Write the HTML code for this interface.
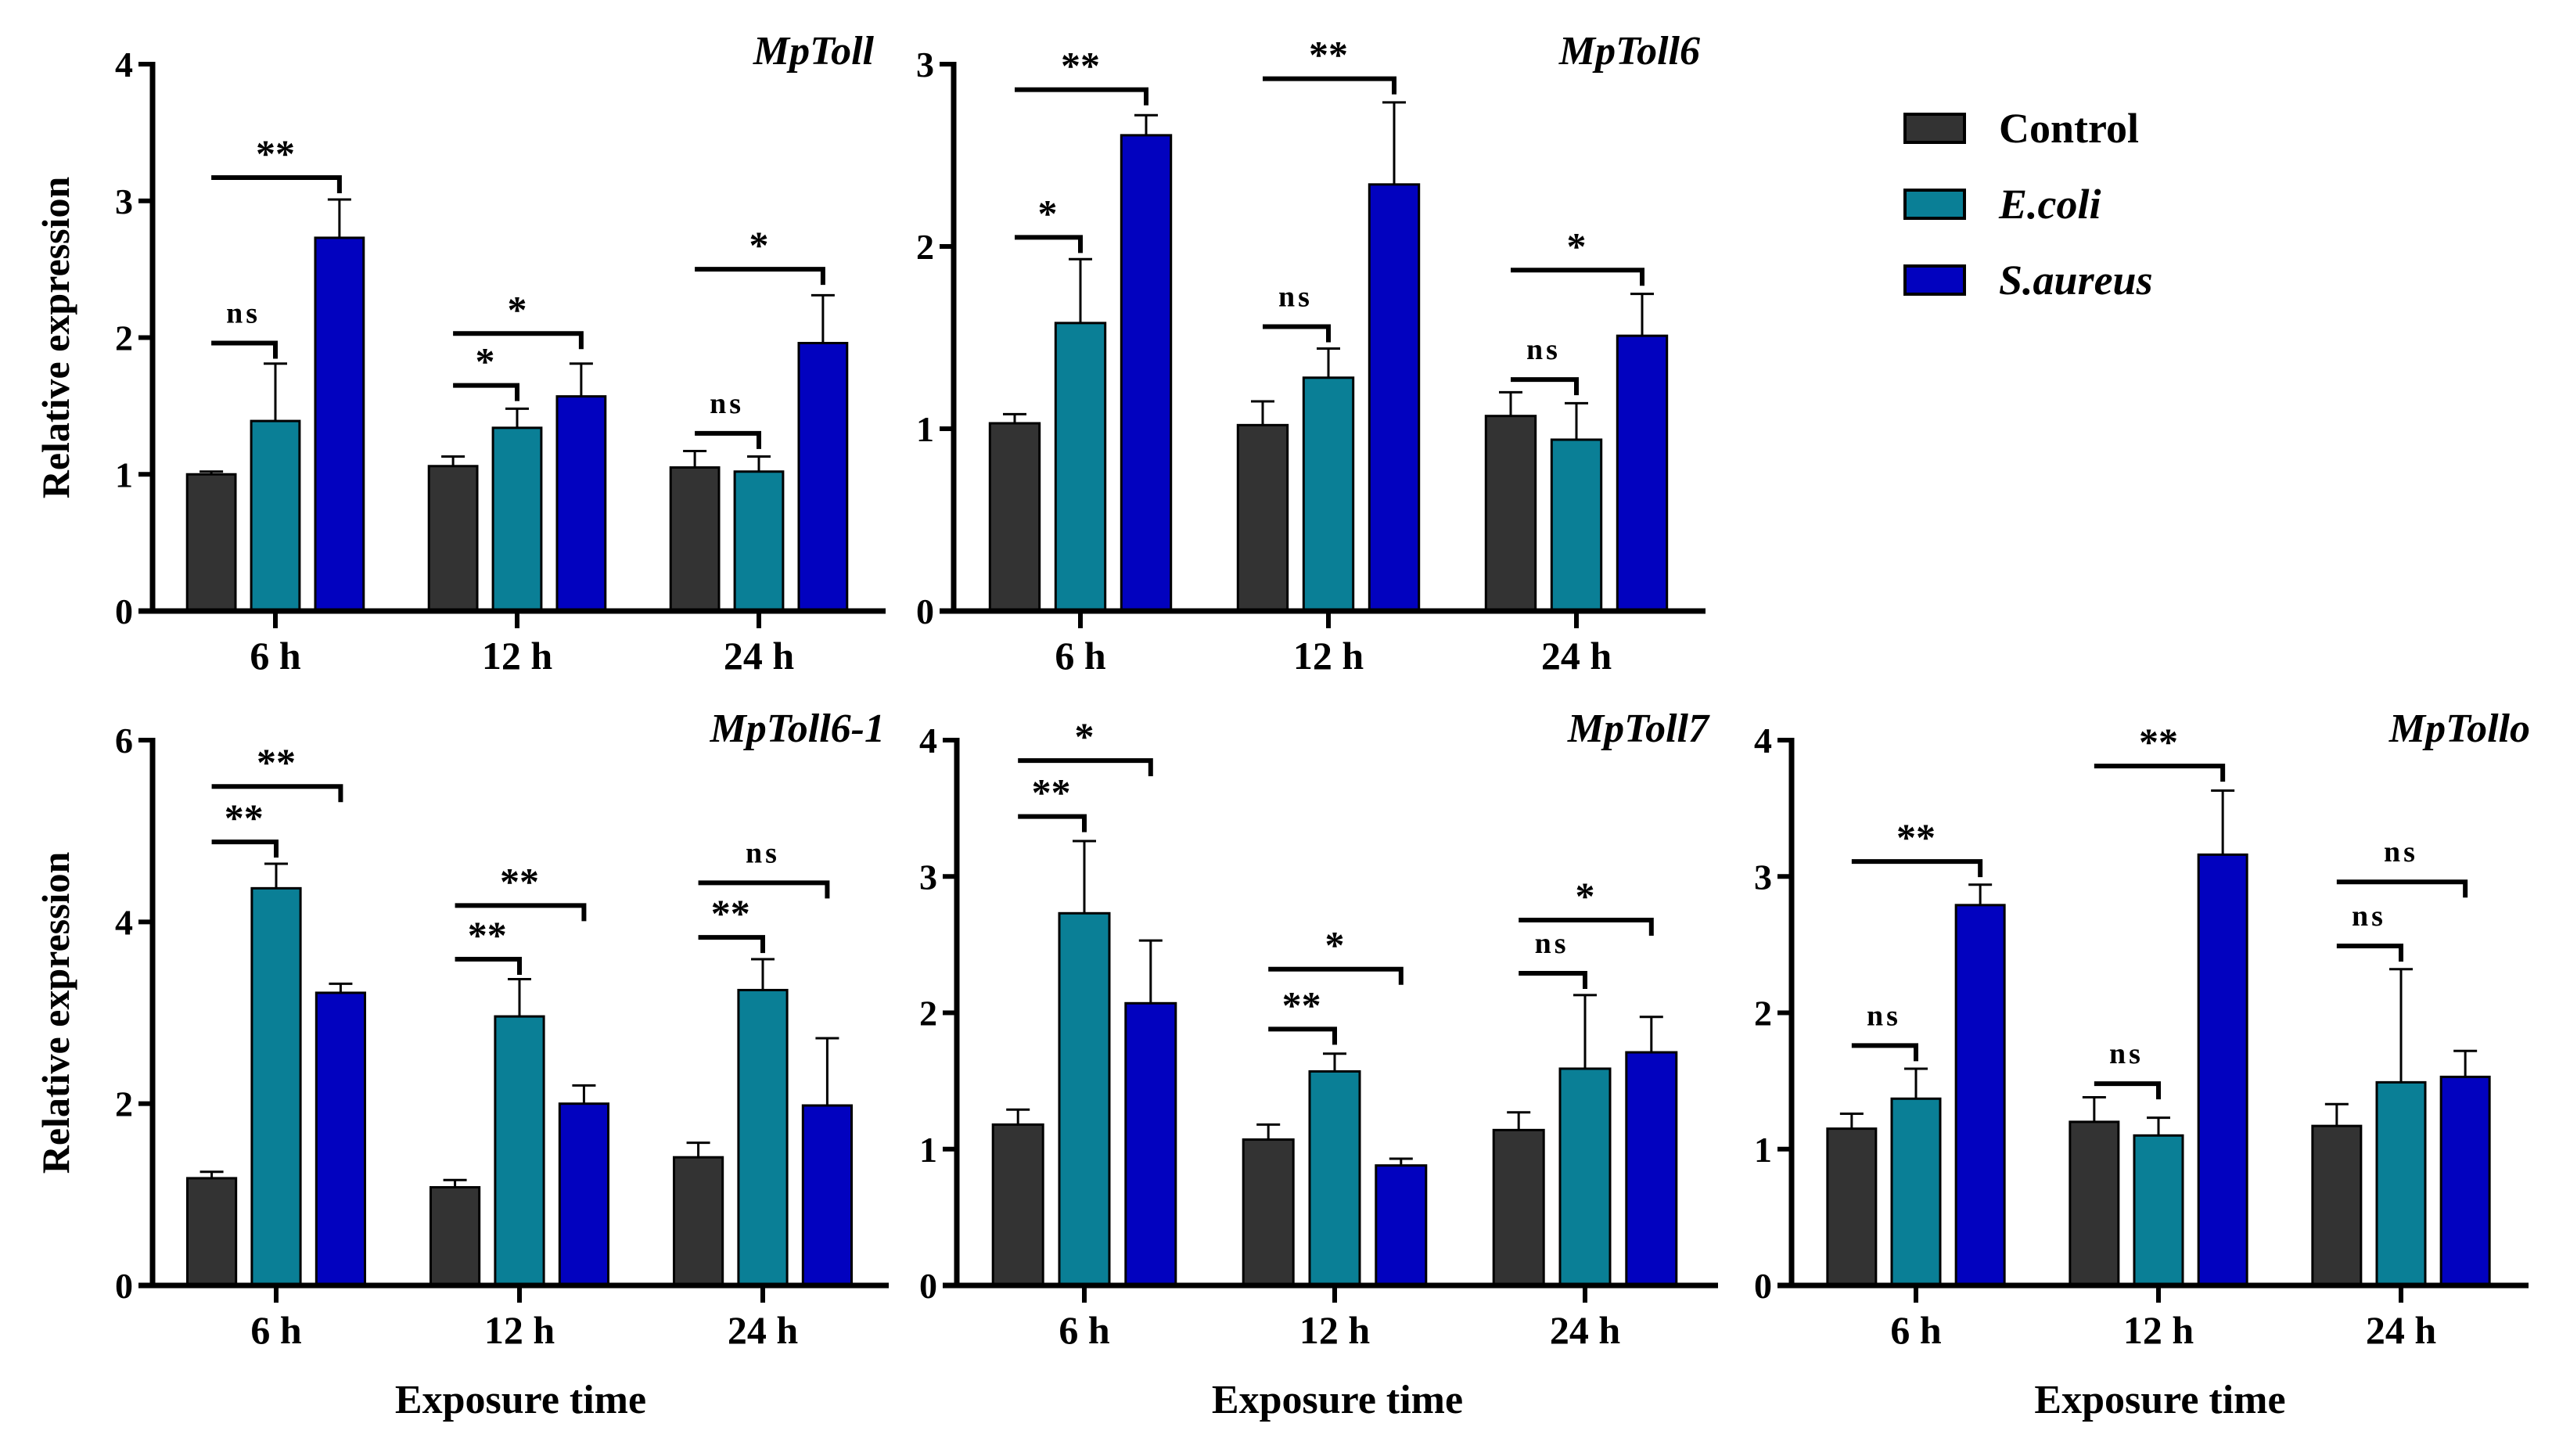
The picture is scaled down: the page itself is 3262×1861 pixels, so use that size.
<!DOCTYPE html>
<html><head><meta charset="utf-8"><style>
html,body{margin:0;padding:0;background:#fff;}
svg{display:block;}
text{font-family:"Liberation Serif",serif;font-weight:bold;fill:#000;}
</style></head><body>
<svg id="chart" width="3262" height="1861" viewBox="0 0 3262 1861" xmlns="http://www.w3.org/2000/svg">
<g id="legend">
 <rect x="2435" y="146" width="76" height="36" fill="#333333" stroke="#000" stroke-width="4"/>
 <text x="2555" y="182" font-size="54">Control</text>
 <rect x="2435" y="243" width="76" height="36" fill="#0a7f96" stroke="#000" stroke-width="4"/>
 <text x="2555" y="279" font-size="54" font-style="italic">E.coli</text>
 <rect x="2435" y="340" width="76" height="36" fill="#0202bf" stroke="#000" stroke-width="4"/>
 <text x="2555" y="376" font-size="54" font-style="italic">S.aureus</text>
</g>
</svg>
<script>
const categories = ['6 h','12 h','24 h'];
const seriesNames = ['Control','E.coli','S.aureus'];
const seriesColors = ['#333333','#0a7f96','#0202bf'];

const mpTollMean = [[1.00,1.39,2.73],[1.06,1.34,1.57],[1.05,1.02,1.96]];
const mpTollErr  = [[0.02,0.42,0.28],[0.07,0.14,0.24],[0.12,0.11,0.35]];
const mpTollSig  = [[0,1,1.96,'ns'],[0,2,3.17,'**'],[1,1,1.65,'*'],[1,2,2.03,'*'],[2,1,1.30,'ns'],[2,2,2.50,'*']];
const mpTollTicks = [0,1,2,3,4];

const mpToll6Mean = [[1.03,1.58,2.61],[1.02,1.28,2.34],[1.07,0.94,1.51]];
const mpToll6Err  = [[0.05,0.35,0.11],[0.13,0.16,0.45],[0.13,0.20,0.23]];
const mpToll6Sig  = [[0,1,2.05,'*'],[0,2,2.86,'**'],[1,1,1.56,'ns'],[1,2,2.92,'**'],[2,1,1.27,'ns'],[2,2,1.87,'*']];
const mpToll6Ticks = [0,1,2,3];

const mpToll61Mean = [[1.18,4.37,3.22],[1.08,2.96,2.00],[1.41,3.25,1.98]];
const mpToll61Err  = [[0.07,0.27,0.10],[0.08,0.41,0.20],[0.16,0.34,0.74]];
const mpToll61Sig  = [[0,1,4.88,'**'],[0,2,5.49,'**'],[1,1,3.59,'**'],[1,2,4.18,'**'],[2,1,3.83,'**'],[2,2,4.43,'ns']];
const mpToll61Ticks = [0,2,4,6];

const mpToll7Mean = [[1.18,2.73,2.07],[1.07,1.57,0.88],[1.14,1.59,1.71]];
const mpToll7Err  = [[0.11,0.53,0.46],[0.11,0.13,0.05],[0.13,0.54,0.26]];
const mpToll7Sig  = [[0,1,3.44,'**'],[0,2,3.85,'*'],[1,1,1.88,'**'],[1,2,2.32,'*'],[2,1,2.29,'ns'],[2,2,2.68,'*']];
const mpToll7Ticks = [0,1,2,3,4];

const mpTolloMean = [[1.15,1.37,2.79],[1.20,1.10,3.16],[1.17,1.49,1.53]];
const mpTolloErr  = [[0.11,0.22,0.15],[0.18,0.13,0.47],[0.16,0.83,0.19]];
const mpTolloSig  = [[0,1,1.76,'ns'],[0,2,3.11,'**'],[1,1,1.48,'ns'],[1,2,3.81,'**'],[2,1,2.49,'ns'],[2,2,2.96,'ns']];
const mpTolloTicks = [0,1,2,3,4];

const NS='http://www.w3.org/2000/svg';
const svg=document.getElementById('chart');
function mk(tag,attrs,parent){const e=document.createElementNS(NS,tag);for(const k in attrs)e.setAttribute(k,attrs[k]);(parent||svg).appendChild(e);return e;}

const panels=[
 {id:'mptoll',title:'MpToll',mean:mpTollMean,err:mpTollErr,sig:mpTollSig,ticks:mpTollTicks,ax:195,end:1132,t0:352,sp:309,top:82,zero:781,tx:1117,ty:82,ylab:true,xlab:false},
 {id:'mptoll6',title:'MpToll6',mean:mpToll6Mean,err:mpToll6Err,sig:mpToll6Sig,ticks:mpToll6Ticks,ax:1219,end:2180,t0:1381,sp:317,top:82,zero:781,tx:2173,ty:82,ylab:false,xlab:false},
 {id:'mptoll6-1',title:'MpToll6-1',mean:mpToll61Mean,err:mpToll61Err,sig:mpToll61Sig,ticks:mpToll61Ticks,ax:195,end:1136,t0:353,sp:311,top:946,zero:1643,tx:1131,ty:948,ylab:true,xlab:true},
 {id:'mptoll7',title:'MpToll7',mean:mpToll7Mean,err:mpToll7Err,sig:mpToll7Sig,ticks:mpToll7Ticks,ax:1223,end:2196,t0:1386,sp:320,top:946,zero:1643,tx:2184,ty:948,ylab:false,xlab:true},
 {id:'mptollo',title:'MpTollo',mean:mpTolloMean,err:mpTolloErr,sig:mpTolloSig,ticks:mpTolloTicks,ax:2290,end:3232,t0:2449,sp:310,top:946,zero:1643,tx:3234,ty:948,ylab:false,xlab:true}
];

panels.forEach(p=>{
 const g=mk('g',{});
 
 
 const maxV=p.ticks[p.ticks.length-1];
 const y=v=>p.zero-(v/maxV)*(p.zero-p.top);
 const xc=(gi,si)=>p.t0+gi*p.sp+(si-1)*p.sp*0.265;
 const bw=p.sp*0.2;
 // bars & error bars
 p.mean.forEach((row,gi)=>row.forEach((v,si)=>{
  const cx=xc(gi,si);
  const et=y(v+p.err[gi][si]);
  const el=mk('line',{x1:cx,x2:cx,y1:y(v),y2:et,stroke:'#000','stroke-width':3},g);
  
  
  const cap=mk('line',{x1:cx-15,x2:cx+15,y1:et,y2:et,stroke:'#000','stroke-width':3},g);
  
  
  const r=mk('rect',{x:cx-bw/2,y:y(v),width:bw,height:p.zero-y(v),fill:seriesColors[si],stroke:'#000','stroke-width':3},g);
  
  
 }));
 // axes
 const ya=mk('line',{x1:p.ax,x2:p.ax,y1:p.top-3,y2:p.zero+3,stroke:'#000','stroke-width':7},g);
 
 
 const xa=mk('line',{x1:p.ax-18,x2:p.end,y1:p.zero,y2:p.zero,stroke:'#000','stroke-width':7},g);
 
 
 p.ticks.forEach(t=>{
  if(t>0){const tk=mk('line',{x1:p.ax-18,x2:p.ax,y1:y(t),y2:y(t),stroke:'#000','stroke-width':6},g);
   
   }
  const tl=mk('text',{x:p.ax-25,y:y(t)+16,'font-size':46,'text-anchor':'end'},g);
  tl.textContent=t;
  
  
 });
 categories.forEach((c,gi)=>{
  const cx=p.t0+gi*p.sp;
  const tk=mk('line',{x1:cx,x2:cx,y1:p.zero,y2:p.zero+22,stroke:'#000','stroke-width':6},g);
  
  
  const tl=mk('text',{x:cx,y:p.zero+74,'font-size':50,'text-anchor':'middle'},g);
  tl.textContent=c;
  
  
 });
 // significance
 p.sig.forEach(s=>{
  const x1=xc(s[0],0), x2=xc(s[0],s[1]), yy=y(s[2]);
  const b=mk('path',{d:`M${x1},${yy} H${x2} V${yy+20}`,fill:'none',stroke:'#000','stroke-width':6},g);
  
  
  const t=mk('text',{x:(x1+x2)/2,y:yy-(s[3]==='ns'?26:14),'font-size':s[3]==='ns'?38:50,'text-anchor':'middle','letter-spacing':s[3]==='ns'?4:0},g);
  t.textContent=s[3];
  
  
 });
 const ti=mk('text',{x:p.tx,y:p.ty,'font-size':52,'font-style':'italic','text-anchor':'end'},g);
 ti.textContent=p.title;
 
 
 if(p.ylab){
  const cy=(p.top+p.zero)/2;
  const yl=mk('text',{x:0,y:0,'font-size':50,'text-anchor':'middle',transform:`translate(88,${cy}) rotate(-90)`},g);
  yl.textContent='Relative expression';
  
  
 }
 if(p.xlab){
  const xl=mk('text',{x:(p.ax+p.end)/2,y:1806,'font-size':52,'text-anchor':'middle'},g);
  xl.textContent='Exposure time';
  
  
 }
});
</script>
</body></html>
